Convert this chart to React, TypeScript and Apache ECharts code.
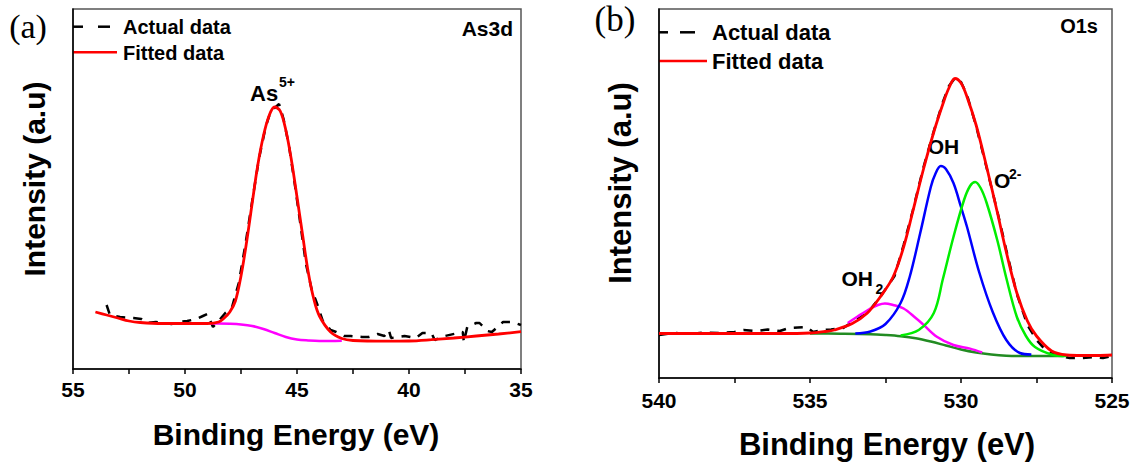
import React, { useEffect, useRef } from "react";
import * as echarts from "echarts";

// ---------- Panel (a): As3d ----------
const aTicks = [55, 50, 45, 40, 35];
const aActualE = [53.5,53.35,52.9,52.3,51.95,51.7,51.3,51.0,50.6,50.3,49.9,49.5,49.2,49.0,48.75,48.5,48.2,47.9,47.6,47.3,47.0,46.7,46.4,46.2,46.0,45.8,45.6,45.35,45.1,44.85,44.6,44.35,44.1,43.85,43.5,43.25,42.9,42.6,42.1,41.8,41.4,41.1,40.9,40.8,40.2,39.7,39.4,39.0,38.85,38.4,37.8,37.6,37.55,37.4,37.0,36.85,36.5,36.3,35.8,35.4,35.0];
const aActual = [64,54,52,51,50,46,47,46,45,47,48,50,53,55,42,48,56,62,86,125,168,210,242,256,261,265,250,222,185,145,105,80,65,48,39,37,33,33,32,32,35,33,39,31,33,31,36,36,29,33,36,37,27,42,46,46,38,37,47,47,44];
const aFitE = [54.0,53.5,53.0,52.5,52.0,51.0,50.0,49.0,48.5,48.25,48.0,47.75,47.5,47.25,47.0,46.75,46.5,46.25,46.0,45.75,45.5,45.25,45.0,44.75,44.5,44.25,44.0,43.5,43.0,42.5,41.0,40.0,39.0,38.0,37.0,36.0,35.0];
const aFit = [57,54,51,48,46.5,45.5,45.5,45.5,47,51,57,68,93,127,166,204,233,253,262,258,239,209,172,134,97,70,53,37,30.5,28.5,27.8,28,29.3,31,33,35,37.3];
const aBgE = [48.9,48.5,48.0,47.5,47.0,46.5,46.0,45.5,45.0,44.5,44.0,43.5,43.0];
const aBg = [45.5,45.5,45.2,44.5,43,40,36,32,29.5,28.5,28,28,28.3];

// ---------- Panel (b): O1s ----------
const bTicks = [540, 535, 530, 525];
const bActualE = [540,539.5,539,538.5,538,537.5,537.2,536.8,536.4,536.0,535.7,535.4,535.1,534.9,534.6,534.3,533.9,533.6,533.1,532.7,532.2,531.9,531.6,531.25,530.9,530.6,530.4,530.2,530.0,529.8,529.5,529.15,528.8,528.5,528.15,527.8,527.5,527.2,527.0,526.7,526.4,526.0,525.6,525.3,525];
const bActual = [43,45,44,45.5,45,46,48,47,48.5,47,50,50.5,51,46,48,48.5,50,56,65,80,102,133,167,210,247,276,292,300,296,283,252,210,167,128,84,53,38,28,25,22,20,20,21,20,22];
const bFitE = [540,538,536,535,534.5,534.2,533.6,533.1,532.7,532.25,531.9,531.6,531.25,530.9,530.6,530.4,530.2,530.0,529.8,529.5,529.15,528.8,528.5,528.15,527.8,527.5,527.0,526.5,526.0,525.5,525];
const bFit = [44.5,44.5,44.5,45,46.5,48,54.5,65,80,101,131,166,208,246,274,290,299.5,295,281,253,211,166,126,85,57,42,27,23,22.5,22.5,23];
const bBgE = [535.0,534.0,533.0,532.5,532.0,531.5,531.0,530.5,530.0,529.5,529.0,528.5,528.0,527.5,526.6];
const bBg = [44.5,44.3,43.8,43,41.8,39.8,36.5,32.5,28.5,25.5,23.5,22.3,22,22,22];
const bOHE = [533.5,533.0,532.5,532.0,531.7,531.35,531.0,530.85,530.67,530.5,530.25,530.0,529.8,529.4,528.95,528.5,528.05,527.67];
const bOH = [44.5,46.5,54,75,101,145,191,204,212,209,195,171,151,106,66,38,25,23.5];
const bO2E = [532.0,531.4,530.9,530.6,530.25,529.9,529.7,529.53,529.35,529.15,528.8,528.5,528.15,527.85,527.55,527.0,526.5];
const bO2 = [42.5,48,65,99,141,178,192,196,190,175,138,100,61,42,31,23.5,22];
const bOH2E = [533.75,533.45,533.0,532.75,532.52,532.25,531.9,531.5,531.25,530.8,530.25,529.7,529.3];
const bOH2 = [55,61,69.5,73,74.5,73,69.5,60,53.5,41.3,33,29.4,25.5];

const FONT = '"Liberation Sans", Arial, sans-serif';
const SERIF = '"Liberation Serif", "Times New Roman", serif';

const zip = (xs: number[], ys: number[]) => xs.map((x, i) => [x, ys[i]]);

function txt(x: number, y: number, text: string, size: number, extra: any = {}) {
  const align = extra.align || "left";
  return {
    type: "text",
    x,
    y,
    rotation: extra.rotation || 0,
    silent: true,
    style: {
      text,
      fontSize: size,
      fontWeight: extra.weight || "bold",
      fontFamily: extra.family || FONT,
      fill: "#000",
      align,
      verticalAlign: "middle",
      textAlign: align,
      textVerticalAlign: "middle",
    },
  };
}

function seg(x1: number, y1: number, x2: number, y2: number, color: string, w: number) {
  return { type: "line", silent: true, shape: { x1, y1, x2, y2 }, style: { stroke: color, lineWidth: w } };
}

function line(name: string, data: number[][], color: string, idx: number, opts: any = {}) {
  return {
    name,
    type: "line",
    xAxisIndex: idx,
    yAxisIndex: idx,
    data,
    showSymbol: false,
    symbol: "none",
    smooth: opts.smooth === undefined ? 0.35 : opts.smooth,
    lineStyle: { color, width: opts.width || 2.5, type: opts.type || "solid" },
    z: opts.z || 2,
  };
}

function xAxis(idx: number, min: number, max: number, margin: number) {
  return {
    type: "value",
    gridIndex: idx,
    min,
    max,
    interval: 2.5,
    inverse: true,
    axisLine: { show: true, onZero: false, lineStyle: { color: "#000", width: 1.5 } },
    axisTick: { show: true, inside: false, length: 5, lineStyle: { color: "#000", width: 1.5 } },
    axisLabel: {
      show: true,
      margin,
      color: "#000",
      fontSize: 21,
      fontWeight: "bold",
      fontFamily: FONT,
      formatter: (v: number) => (Math.abs(v % 5) < 1e-6 ? String(v) : ""),
    },
    splitLine: { show: false },
  };
}

function yAxis(idx: number, max: number) {
  return {
    type: "value",
    gridIndex: idx,
    min: 0,
    max,
    axisLine: { show: true, lineStyle: { color: "#000", width: 1.5 } },
    axisTick: { show: false },
    axisLabel: { show: false },
    splitLine: { show: false },
  };
}

export default function App() {
  const ref = useRef<HTMLDivElement>(null);
  useEffect(() => {
    if (!ref.current) return;
    const chart = echarts.init(ref.current, null, { renderer: "svg" });
    chart.setOption({
      animation: false,
      backgroundColor: "#ffffff",
      grid: [
        { left: 73, top: 9, width: 448, height: 360, show: true, borderColor: "#555", borderWidth: 1.5 },
        { left: 659, top: 9, width: 453, height: 369, show: true, borderColor: "#555", borderWidth: 1.5 },
      ],
      xAxis: [xAxis(0, 35, 55, 10), xAxis(1, 525, 540, 12)],
      yAxis: [yAxis(0, 360), yAxis(1, 369)],
      series: [
        line("Actual data", zip(aActualE, aActual), "#000", 0, { smooth: false, type: [9, 8], z: 2 }),
        line("Background", zip(aBgE, aBg), "#ff00ff", 0, { z: 3 }),
        line("Fitted data", zip(aFitE, aFit), "#ff0000", 0, { width: 2.8, z: 4 }),

        line("Actual data ", zip(bActualE, bActual), "#000", 1, { smooth: false, type: [9, 8], z: 2 }),
        line("Background ", zip(bBgE, bBg), "#228b22", 1, { z: 3 }),
        line("OH2", zip(bOH2E, bOH2), "#ff00ff", 1, { z: 3 }),
        line("OH", zip(bOHE, bOH), "#0000ff", 1, { z: 3 }),
        line("O2-", zip(bO2E, bO2), "#00ee00", 1, { z: 3 }),
        line("Fitted data ", zip(bFitE, bFit), "#ff0000", 1, { width: 2.8, z: 4 }),
      ],
      graphic: [
        // panel (a)
        txt(28, 26, "(a)", 34, { weight: "normal", family: SERIF, align: "center" }),
        seg(73, 26.7, 83, 26.7, "#000", 2.5),
        seg(98, 26.7, 110, 26.7, "#000", 2.5),
        txt(123, 27, "Actual data", 20),
        seg(73, 52.3, 117, 52.3, "#ff0000", 2.5),
        txt(123, 52.5, "Fitted data", 20),
        txt(513, 28, "As3d", 21, { align: "right" }),
        txt(250, 93.5, "As", 22),
        txt(279, 82, "5+", 14),
        txt(296, 434, "Binding Energy (eV)", 30, { align: "center" }),
        txt(34, 179, "Intensity (a.u)", 30, { align: "center", rotation: Math.PI / 2 }),
        // panel (b)
        txt(615, 19, "(b)", 35, { weight: "normal", family: SERIF, align: "center" }),
        seg(659, 32.3, 668, 32.3, "#000", 2.5),
        seg(680, 32.3, 695, 32.3, "#000", 2.5),
        txt(712, 32.5, "Actual data", 22),
        seg(659, 61, 707, 61, "#ff0000", 2.5),
        txt(712, 61.5, "Fitted data", 22),
        txt(1098, 26, "O1s", 20, { align: "right" }),
        txt(943.5, 146, "OH", 21, { align: "center" }),
        txt(994, 180.5, "O", 21),
        txt(1009, 174, "2-", 14),
        txt(841.5, 278.5, "OH", 21),
        txt(875.5, 288.5, "2", 14),
        txt(887, 444, "Binding Energy (eV)", 31, { align: "center" }),
        txt(620, 183, "Intensity (a.u)", 31, { align: "center", rotation: Math.PI / 2 }),
      ],
    });
    return () => chart.dispose();
  }, []);
  return <div ref={ref} style={{ position: "absolute", left: 0, top: 0, width: 1138, height: 466 }} />;
}
